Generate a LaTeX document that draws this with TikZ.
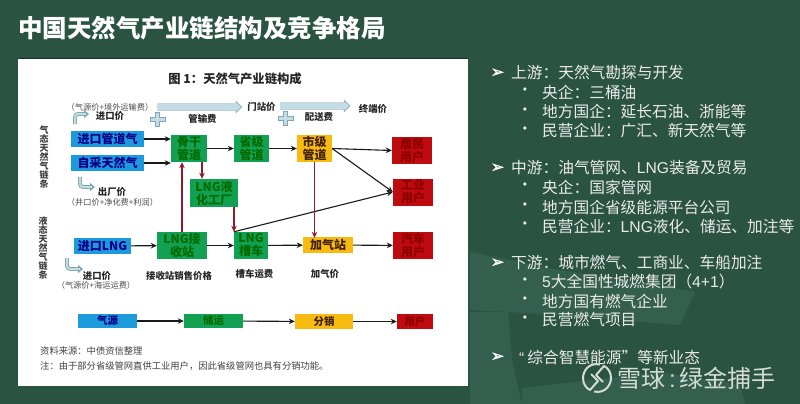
\documentclass[tikz,border=0pt]{standalone}
\usepackage{fontspec}
\setmainfont{Noto Sans CJK SC}
\newfontfamily\arialfont{Liberation Sans}
\newfontfamily\symfont[RawFeature={embolden=2}]{DejaVu Sans}
\usepackage{tikz}
\usetikzlibrary{shapes.arrows,arrows.meta}
\definecolor{bgdark}{HTML}{2B5342}
\definecolor{bgpatch}{HTML}{4A7A68}
\definecolor{boxblue}{HTML}{1C9ADB}
\definecolor{boxgreen}{HTML}{12A052}
\definecolor{boxorange}{HTML}{F7BA0E}
\definecolor{boxred}{HTML}{BF0A10}
\definecolor{flowred}{HTML}{8C1C2C}
\definecolor{hollow}{HTML}{C4DDE4}
\definecolor{hollowline}{HTML}{7FA6B2}
\definecolor{wmark}{HTML}{D3DCD7}
\newcommand{\fsize}[1]{\fontsize{#1}{#1}\selectfont}
\newcommand{\plusmark}[2]{\draw[plusst,shift={(#1,#2)}] (-2,-7) -- (2,-7) -- (2,-2) -- (7.5,-2) -- (7.5,2) -- (2,2) -- (2,7) -- (-2,7) -- (-2,2) -- (-7.5,2) -- (-7.5,-2) -- (-2,-2) -- cycle;}
\tikzset{
  box/.style={inner sep=0pt,align=center,font=\fsize{12}\bfseries},
  bluebox/.style={box,fill=boxblue,text=blue!55!black},
  greenbox/.style={box,fill=boxgreen,text=green!42!black,minimum width=36pt,minimum height=27pt},
  orangebox/.style={box,fill=boxorange,text=black!75!orange,minimum height=16pt},
  redbox/.style={box,fill=boxred,text=red!55!black,minimum width=40pt,minimum height=27pt},
  lbl/.style={inner sep=0pt,font=\fsize{9.4}\bfseries,text=black!85},
  sublbl/.style={inner sep=0pt,font=\fsize{8.2},text=black!70},
  note/.style={inner sep=0pt,anchor=west,font=\fsize{9.3},text=black!75},
  vert/.style={inner sep=0pt,align=center,font=\fontsize{9}{9}\selectfont\bfseries,text=black!75},
  item/.style={inner sep=0pt,anchor=west,text=white!92!black,font=\fsize{15.7}},
  dotmark/.style={inner sep=0pt,text=white!92!black,font=\fsize{15.7}},
  arrowmark/.style={inner sep=0pt,text=white,font=\symfont\fsize{16}},
  hollowarrow/.style={single arrow,draw=hollowline,fill=hollow,inner sep=0pt,text height=6.6pt,text depth=0pt,minimum width=11pt,single arrow head extend=2.2pt,single arrow head indent=0pt},
  plusst/.style={draw=hollowline,fill=hollow,line width=.5pt},
  bendarrow/.style={line width=3.8pt,draw=hollowline,rounded corners=3pt,-{Triangle[length=5pt,width=8pt]},postaction={draw=hollow,line width=2pt,shorten >=3pt,-}},
  flow/.style={->,line width=1.1pt,draw=black!90},
  redflow/.style={->,line width=1.1pt,draw=flowred},
  wmline/.style={draw=wmark,line width=2pt,line join=round},
}
\begin{document}
\begin{tikzpicture}[x=1pt,y=-1pt,>={Stealth[length=6pt,width=5.5pt]}]
    \useasboundingbox (0,0) rectangle (800,404);
    \fill[bgdark] (0,0) rectangle (800,404);
    \fill[bgpatch,opacity=.3] (470,252) -- (560,270) -- (695,292) -- (680,325) -- (510,312) -- (470,310) -- cycle;
    \fill[bgpatch,opacity=.3] (470,312) -- (508,312) -- (512,360) -- (522,404) -- (470,404) -- cycle;
    \fill[bgpatch,opacity=.3] (522,388) -- (660,372) -- (740,385) -- (745,404) -- (522,404) -- cycle;
    \fill[white] (18,58) rectangle (468,386);
    \draw[bgdark!60!black,line width=.6pt] (18,58) -- (468,58);
    \node[inner sep=0pt,anchor=west,text=white,font=\fsize{24.5}\bfseries] (title) at (18,28) {中国天然气产业链结构及竞争格局};
    \node[inner sep=0pt,font=\fsize{12.3}\bfseries,text=black!85] (figtitle) at (235,79) {图 1：天然气产业链构成};
    % boxes
    \node[bluebox,minimum width=73pt,minimum height=16pt] (pipe) at (107.5,139) {进口管道气};
    \node[bluebox,minimum width=73pt,minimum height=16pt] (self) at (107.5,163) {自采天然气};
    \node[greenbox] (trunk) at (189,148.5) {骨干\\[1pt]管道};
    \node[greenbox,minimum width=35pt] (prov) at (251.5,148.5) {省级\\[1pt]管道};
    \node[orangebox,minimum width=35pt,minimum height=27pt] (city) at (314.5,148.5) {市级\\[1pt]管道};
    \node[redbox] (home) at (412,150.5) {居民\\[1pt]用户};
    \node[redbox] (works) at (413,192) {工业\\[1pt]用户};
    \node[greenbox,minimum width=48pt,minimum height=28pt] (plant) at (214,193) {LNG液\\[1pt]化工厂};
    \node[bluebox,minimum width=57pt,minimum height=16pt] (lng) at (102.5,246) {进口LNG};
    \node[greenbox,minimum width=50pt] (term) at (182,245.5) {LNG接\\[1pt]收站};
    \node[greenbox,minimum width=34pt] (tank) at (251,245.5) {LNG\\[1pt]槽车};
    \node[orangebox,minimum width=50pt] (fill) at (328,245) {加气站};
    \node[redbox] (cars) at (413,245.5) {汽车\\[1pt]用户};
    \node[bluebox,minimum width=59pt,minimum height=14pt,font=\fsize{10.5}\bfseries] (src) at (107.5,321) {气源};
    \node[greenbox,minimum width=59pt,minimum height=14pt,font=\fsize{10.5}\bfseries] (stor) at (213.5,321) {储运};
    \node[orangebox,minimum width=58pt,minimum height=15pt,font=\fsize{10.5}\bfseries] (dist) at (324,321.5) {分销};
    \node[redbox,minimum width=36pt,minimum height=15pt,font=\fsize{10.5}\bfseries] (user) at (415,321.5) {用户};
    % connectors
    \draw [flow] (pipe) to (pipe -| trunk.west);
    \draw [flow] (self) to (self -| trunk.west);
    \draw [flow] (trunk) to (prov);
    \draw [flow] (prov) to (city);
    \draw [flow] (city.east) to (home.west);
    \draw [flow] (city.east) to (works.west);
    \draw [flow] ([xshift=-17pt]tank.north) to (works.west);
    \draw [flow] (lng) to (term);
    \draw [flow] (term) to (tank);
    \draw [flow] (tank) to (fill);
    \draw [flow] (fill) to (cars);
    \draw [flow] (src) to (stor);
    \draw [flow] (stor) to (dist);
    \draw [flow] (dist) to (user);
    \draw [redflow] ([xshift=13pt]trunk.south) to ([xshift=13pt]trunk.south |- plant.north);
    \draw [redflow] ([xshift=-17pt]tank.north |- plant.south) to ([xshift=-17pt]tank.north);
    \draw [redflow] (term.north) to (term.north |- trunk.south);
    \draw [redflow] (city.south) to ([yshift=-1pt]city.south |- fill.north);
    % price arrows
    \node[hollowarrow,minimum height=84pt] (fee1) at (198,107) {};
    \node[hollowarrow,minimum height=69pt] (fee2) at (313.5,106) {};
    \plusmark{157.5}{119}
    \plusmark{285.5}{118}
    \coordinate (b1s) at (75,124);
    \coordinate (b1e) at (89,114);
    \coordinate (b2s) at (80,177);
    \coordinate (b2e) at (95,187);
    \coordinate (b3s) at (67,258);
    \coordinate (b3e) at (83,269);
    \draw [bendarrow] (b1s) |- (b1e);
    \draw [bendarrow] (b2s) |- (b2e);
    \draw [bendarrow] (b3s) |- (b3e);
    % labels
    \node[sublbl] (p1) at (110,107) {（气源价+境外运输费）};
    \node[lbl] (p2) at (110,116) {进口价};
    \node[lbl] (p3) at (202.5,119) {管输费};
    \node[lbl] (p4) at (261.5,107) {门站价};
    \node[lbl] (p5) at (319,117) {配送费};
    \node[lbl] (p6) at (373,109) {终端价};
    \node[lbl] (p7) at (112,192) {出厂价};
    \node[sublbl] (p8) at (112.5,202) {（井口价+净化费+利润）};
    \node[lbl] (p9) at (97,276) {进口价};
    \node[sublbl] (p10) at (96,285) {（气源价+海运运费）};
    \node[lbl] (p11) at (179,276) {接收站销售价格};
    \node[lbl] (p12) at (254.5,274) {槽车运费};
    \node[lbl] (p13) at (325,274) {加气价};
    \node[vert] (gas) at (44,157) {气\\态\\天\\然\\气\\链\\条};
    \node[vert] (liq) at (43,248.5) {液\\态\\天\\然\\气\\链\\条};
    \node[note] (n1) at (40,351) {资料来源：中债资信整理};
    \node[note] (n2) at (40,366) {注：由于部分省级管网直供工业用户，因此省级管网也具有分销功能。};
    % right column
    \node[arrowmark] (m1) at (497.5,73) {➢};
    \node[item] (up) at (511,73) {上游：天然气勘探与开发};
    \node[dotmark] (b1) at (525,92) {•};
    \node[item] (up1) at (542,92) {央企：三桶油};
    \node[dotmark] (b2) at (525,112) {•};
    \node[item] (up2) at (542,112) {地方国企：延长石油、浙能等};
    \node[dotmark] (b3) at (525,131) {•};
    \node[item] (up3) at (542,131) {民营企业：广汇、新天然气等};
    \node[arrowmark] (m2) at (497.5,168) {➢};
    \node[item] (mid) at (511,168) {中游：油气管网、{\arialfont LNG}装备及贸易};
    \node[dotmark] (b4) at (525,187) {•};
    \node[item] (mid1) at (542,187) {央企：国家管网};
    \node[dotmark] (b5) at (525,207) {•};
    \node[item] (mid2) at (542,207) {地方国企省级能源平台公司};
    \node[dotmark] (b6) at (525,226) {•};
    \node[item] (mid3) at (542,226) {民营企业：{\arialfont LNG}液化、储运、加注等};
    \node[arrowmark] (m3) at (497.5,263) {➢};
    \node[item] (down) at (511,263) {下游：城市燃气、工商业、车船加注};
    \node[dotmark] (b7) at (525,282) {•};
    \node[item] (down1) at (542,282) {{\arialfont 5}大全国性城燃集团（{\arialfont 4+1}）};
    \node[dotmark] (b8) at (525,301) {•};
    \node[item] (down2) at (542,301) {地方国有燃气企业};
    \node[dotmark] (b9) at (525,320) {•};
    \node[item] (down3) at (542,320) {民营燃气项目};
    \node[arrowmark] (m4) at (497.5,357) {➢};
    \node[item] (smart) at (519,357) {{\arialfont “}\hspace{3pt}综合智慧能源”等新业态};
    % watermark
    \node[inner sep=0pt,anchor=west,text=wmark,font=\fsize{24}] (wm) at (617,378) {雪球\,{\arialfont :}\,绿金捕手};
    \draw[wmline] (600,364.5) .. controls (588,362) and (583,372) .. (583,378) .. controls (583,384) and (586,388) .. (590,390) -- (598,381) -- (591,374);
    \draw[wmline] (594,391.5) .. controls (606,394) and (611,384) .. (611,378) .. controls (611,372) and (608,368) .. (604,366) -- (596,375) -- (603,382);
\end{tikzpicture}
\end{document}
